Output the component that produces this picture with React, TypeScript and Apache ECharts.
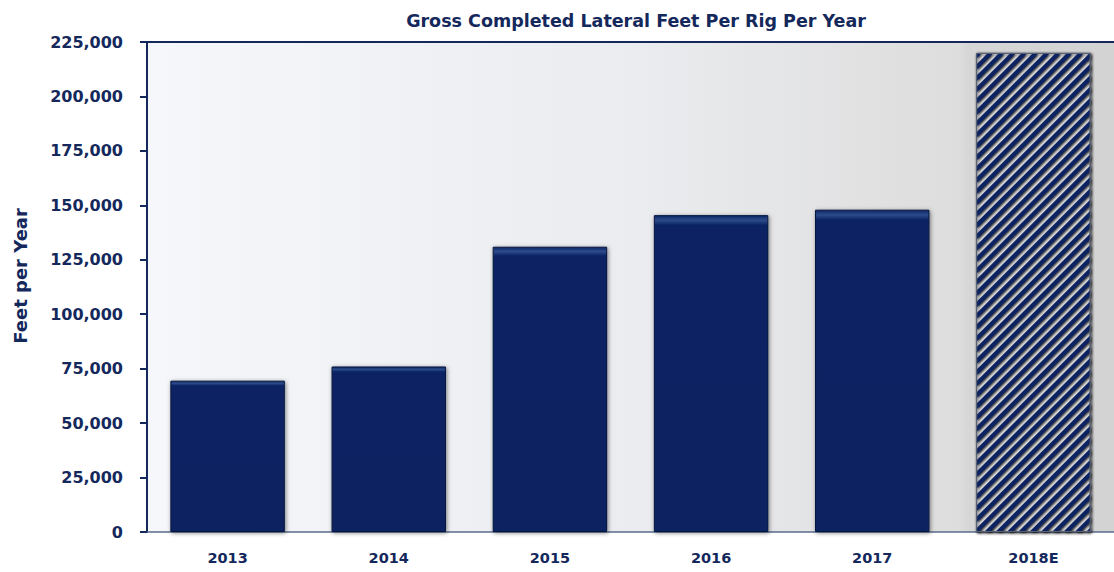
import React, { useEffect, useRef } from "react";
import * as echarts from "echarts";

const categories = ["2013", "2014", "2015", "2016", "2017", "2018E"];
const values = [69500, 76000, 131000, 145500, 148000, 220000];
const estimateFlags = [false, false, false, false, false, true];
const titleText = "Gross Completed Lateral Feet Per Rig Per Year";
const yAxisName = "Feet per Year";

const NAVY = "#14285c";
const FONT = "'DejaVu Sans', sans-serif";

export default function App() {
  const ref = useRef<HTMLDivElement>(null);
  useEffect(() => {
    document.body.style.margin = "0";
    const chart = echarts.init(ref.current!, null, { renderer: "svg" });
    const data = values.map((v, i) =>
      estimateFlags[i]
        ? {
            value: v,
            itemStyle: {
              color: "#ffffff",
              borderColor: "#5a6274",
              borderWidth: 1,
              shadowBlur: 3,
              shadowColor: "rgba(0,0,0,0.45)",
              decal: {
                symbol: "rect",
                symbolSize: 1,
                dashArrayX: [1, 0],
                dashArrayY: [4, 4],
                rotation: -Math.PI / 4,
                color: "#0b2260",
              },
            },
          }
        : { value: v }
    );
    chart.setOption({
      animation: false,
      title: {
        text: titleText,
        left: 631,
        textAlign: "center",
        top: 7,
        textStyle: { color: NAVY, fontFamily: FONT, fontWeight: "bold", fontSize: 17.5 },
      },
      grid: {
        left: 147,
        top: 42,
        right: -6,
        bottom: 40,
        show: true,
        borderWidth: 0,
        backgroundColor: {
          type: "linear",
          x: 0,
          y: 0,
          x2: 1,
          y2: 0,
          colorStops: [
            { offset: 0, color: "#f6f7fa" },
            { offset: 0.5, color: "#ebecef" },
            { offset: 0.84, color: "#dddddd" },
            { offset: 0.85, color: "#d6d6d6" },
            { offset: 1, color: "#d3d3d3" },
          ],
        },
      },
      xAxis: [
        {
          type: "category",
          data: categories,
          axisLine: { lineStyle: { color: "#5a6b8c", width: 1.5 } },
          axisTick: { show: false },
          axisLabel: {
            color: NAVY,
            fontFamily: FONT,
            fontWeight: "bold",
            fontSize: 14.5,
            margin: 18,
          },
        },
        {
          type: "category",
          position: "top",
          data: categories,
          axisLine: { lineStyle: { color: NAVY, width: 2 } },
          axisTick: { show: false },
          axisLabel: { show: false },
        },
      ],
      yAxis: {
        type: "value",
        min: 0,
        max: 225000,
        interval: 25000,
        name: yAxisName,
        nameLocation: "middle",
        nameRotate: 90,
        nameGap: 118,
        nameTextStyle: {
          color: NAVY,
          fontFamily: FONT,
          fontWeight: "bold",
          fontSize: 18,
          padding: [0, 0, 0, 22],
        },
        axisLine: { show: true, lineStyle: { color: NAVY, width: 2 } },
        axisTick: { show: true, length: 7, lineStyle: { color: NAVY, width: 2 } },
        splitLine: { show: false },
        axisLabel: {
          color: NAVY,
          fontFamily: FONT,
          fontWeight: "bold",
          fontSize: 16,
          margin: 24,
          formatter: (v: number) => v.toLocaleString("en-US"),
        },
      },
      series: [
        {
          type: "bar",
          data,
          barWidth: "71%",
          itemStyle: {
            color: {
              type: "linear",
              x: 0,
              y: 0,
              x2: 0,
              y2: 1,
              colorStops: [
                { offset: 0, color: "#0d2666" },
                { offset: 0.015, color: "#2d4b8a" },
                { offset: 0.03, color: "#0b2463" },
                { offset: 1, color: "#0a2260" },
              ],
            },
            borderColor: "#06163f",
            borderWidth: 1,
            shadowBlur: 4,
            shadowColor: "rgba(0,0,0,0.5)",
            shadowOffsetX: 1,
            shadowOffsetY: 1,
          },
        },
      ],
    });
    return () => chart.dispose();
  }, []);
  return <div ref={ref} style={{ width: 1114, height: 572 }} />;
}
